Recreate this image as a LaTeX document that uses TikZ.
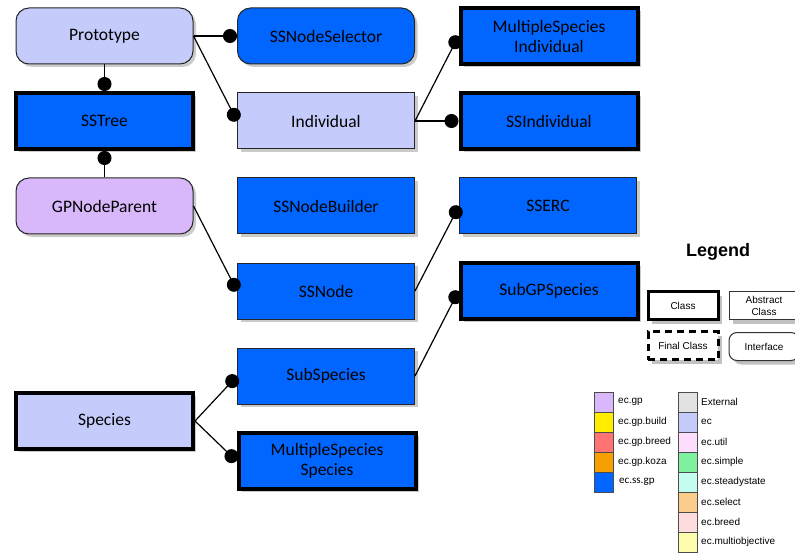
\documentclass[tikz,border=0pt]{standalone}
\usepackage{fontspec}
\setmainfont{Carlito}
\newfontfamily\legendfont{Liberation Sans}
\usetikzlibrary{arrows.meta,shadows}

\definecolor{ssblue}{HTML}{0066FF}
\definecolor{ecblue}{HTML}{C5CCFC}
\definecolor{gpviolet}{HTML}{D8B8FA}
\definecolor{gpbuild}{HTML}{FFEE00}
\definecolor{gpbreed}{HTML}{FF7373}
\definecolor{gpkoza}{HTML}{F5A000}
\definecolor{extgray}{HTML}{E2E2E2}
\definecolor{ecutil}{HTML}{FCDDFC}
\definecolor{ecsimple}{HTML}{7EF0A0}
\definecolor{ecsteady}{HTML}{C4FCF0}
\definecolor{ecselect}{HTML}{FCCC8C}
\definecolor{ecbreed}{HTML}{FCDCDC}
\definecolor{ecmulti}{HTML}{FCFCAC}

\tikzset{
  cls/.style={draw=black!85, line width=1pt, minimum width=177pt, minimum height=56pt,
    inner sep=0pt, align=center, font=\fontsize{17.5}{20}\selectfont,
    drop shadow={shadow xshift=3pt, shadow yshift=-3pt, fill=black!40, opacity=0.5}},
  finalcls/.style={cls, draw=black, line width=4pt},
  iface/.style={cls, rounded corners=13pt},
  conn/.style={line width=1.2pt, -{Circle[length=14pt]}},
  lgbox/.style={draw=black!80, line width=1pt, fill=white, minimum width=70pt, minimum height=28pt,
    inner sep=0pt, align=center, font=\legendfont\fontsize{10}{12}\selectfont,
    drop shadow={shadow xshift=4pt, shadow yshift=-4pt, fill=black!40, opacity=0.6}},
  swatch/.style={draw=black!70, line width=0.8pt, minimum width=19pt, minimum height=20pt, inner sep=0pt},
  swlabel/.style={anchor=west, inner sep=0pt, font=\legendfont\fontsize{10}{12}\selectfont}
}

\begin{document}
\begin{tikzpicture}[x=1pt, y=-1pt]
  \useasboundingbox[fill=white] (0,0) rectangle (795,556);

  % class nodes, three columns
  \node[iface, fill=ecblue]      (proto)  at (104.5,36)  {Prototype};
  \node[finalcls, fill=ssblue]   (sstree) at (104.5,121) {SSTree};
  \node[iface, fill=gpviolet]    (gpnp)   at (104.5,206) {GPNodeParent};
  \node[finalcls, fill=ecblue]   (spec)   at (104.5,421) {Species};

  \node[iface, fill=ssblue]      (nsel)   at (326,36)  {SSNodeSelector};
  \node[cls, fill=ecblue]        (indiv)  at (326,121) {Individual};
  \node[cls, fill=ssblue]        (nbuild) at (326,206) {SSNodeBuilder};
  \node[cls, fill=ssblue]        (ssnode) at (326,291) {SSNode};
  \node[cls, fill=ssblue]        (subsp)  at (326,376) {SubSpecies};
  \node[finalcls, fill=ssblue]   (mssp)   at (327,461) {MultipleSpecies\\Species};

  \node[finalcls, fill=ssblue]   (msind)  at (549,36)  {MultipleSpecies\\Individual};
  \node[finalcls, fill=ssblue]   (ssind)  at (549,121) {SSIndividual};
  \node[cls, fill=ssblue]        (sserc)  at (548,206) {SSERC};
  \node[finalcls, fill=ssblue]   (subgp)  at (549,291) {SubGPSpecies};

  % connectors
  \draw[conn] (proto.south) -- (sstree.north);
  \draw[conn] (gpnp.north) -- (sstree.south);
  \draw[conn] (proto.east) -- (nsel.west);
  \draw[conn] (proto.east) -- (indiv.west);
  \draw[conn] (gpnp.east) -- (ssnode.west);
  \draw[conn] (indiv.east) -- (msind.west);
  \draw[conn] (indiv.east) -- (ssind.west);
  \draw[conn] (ssnode.east) -- (sserc.west);
  \draw[conn] (subsp.east) -- (subgp.west);
  \draw[conn] (spec.east) -- (subsp.west);
  \draw[conn] (spec.east) -- (mssp.west);

  % legend
  \node[font=\legendfont\bfseries\fontsize{18}{20}\selectfont] (lgtitle) at (718,252) {Legend};
  \node[lgbox, draw=black, line width=3pt] (lgclass) at (683,305.5) {Class};
  \node[lgbox] (lgabs) at (764,305.5) {Abstract\\Class};
  \node[lgbox, draw=black, line width=3pt, dashed, dash pattern=on 7pt off 5pt] (lgfinal) at (683,345.5) {Final Class};
  \node[lgbox, rounded corners=8pt] (lgiface) at (764,346.5) {Interface};

  % package colour key
  \node[swatch, fill=gpviolet] (k1) at (603.5,402) {};
  \node[swatch, fill=gpbuild]  (k2) at (603.5,422) {};
  \node[swatch, fill=gpbreed]  (k3) at (603.5,442) {};
  \node[swatch, fill=gpkoza]   (k4) at (603.5,462) {};
  \node[swatch, fill=ssblue]   (k5) at (603.5,482) {};
  \node[swlabel] (t1) at (618,402) {ec.gp};
  \node[swlabel] (t2) at (618,422) {ec.gp.build};
  \node[swlabel] (t3) at (618,442) {ec.gp.breed};
  \node[swlabel] (t4) at (618,462) {ec.gp.koza};
  \node[swlabel, font=\fontsize{11}{12}\selectfont] (t5) at (619,482) {ec.ss.gp};

  \node[swatch, fill=extgray]  (r1) at (687.5,402) {};
  \node[swatch, fill=ecblue]   (r2) at (687.5,422) {};
  \node[swatch, fill=ecutil]   (r3) at (687.5,442) {};
  \node[swatch, fill=ecsimple] (r4) at (687.5,462) {};
  \node[swatch, fill=ecsteady] (r5) at (687.5,482) {};
  \node[swatch, fill=ecselect] (r6) at (687.5,502) {};
  \node[swatch, fill=ecbreed]  (r7) at (687.5,522) {};
  \node[swatch, fill=ecmulti]  (r8) at (687.5,542) {};
  \node[swlabel] (u1) at (701,402) {External};
  \node[swlabel] (u2) at (701,422) {ec};
  \node[swlabel] (u3) at (701,442) {ec.util};
  \node[swlabel] (u4) at (701,462) {ec.simple};
  \node[swlabel] (u5) at (701,482) {ec.steadystate};
  \node[swlabel] (u6) at (701,502) {ec.select};
  \node[swlabel] (u7) at (701,522) {ec.breed};
  \node[swlabel] (u8) at (701,542) {ec.multiobjective};
\end{tikzpicture}
\end{document}
